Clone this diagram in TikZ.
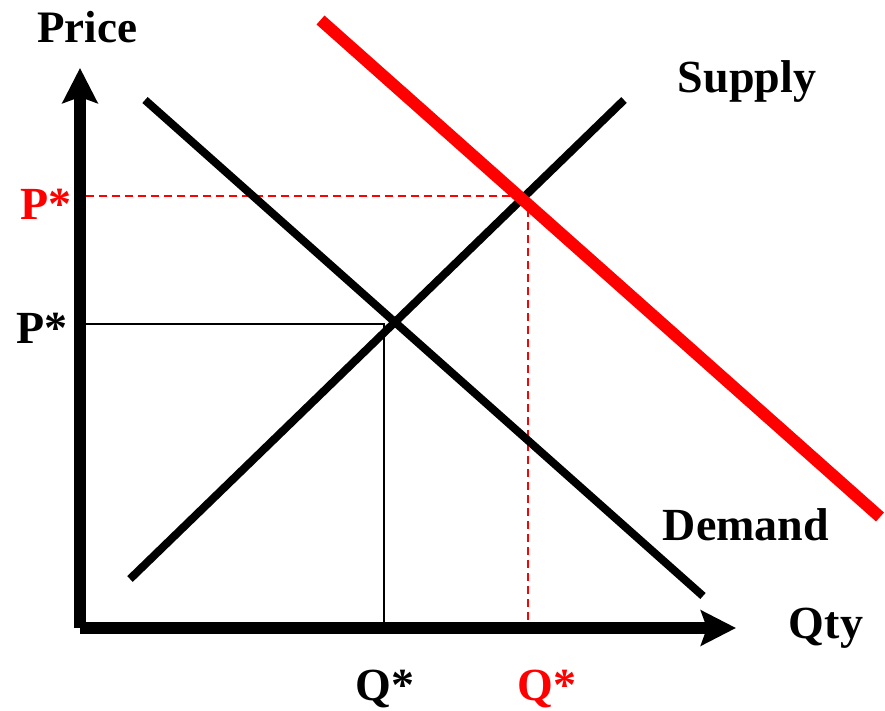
\documentclass[tikz,border=0pt]{standalone}
\usepackage{fontspec}
\setmainfont{Liberation Serif}
\usetikzlibrary{arrows.meta}
\definecolor{pred}{RGB}{255,0,0}
\tikzset{
  axisline/.style={line width=12pt,-{Stealth[length=35pt,width=35pt,inset=6pt]}},
  curveline/.style={line width=8pt,line cap=butt},
  shiftline/.style={line width=12pt,color=pred,line cap=butt},
  guideline/.style={line width=2pt},
  redguide/.style={line width=1.5pt,color=pred,dash pattern=on 8pt off 5pt},
  lbl/.style={font=\fontsize{46}{50}\selectfont\bfseries,anchor=base,inner sep=0pt},
}
\begin{document}
\begin{tikzpicture}[x=1pt,y=-1pt]
\useasboundingbox (0,0) rectangle (885,711);
% coordinates
\coordinate (O) at (80,628);
\coordinate (Ytop) at (80,68);
\coordinate (Xend) at (736,628);
\coordinate (S1) at (130,579);
\coordinate (S2) at (624,100);
\coordinate (D1) at (145,100);
\coordinate (D2) at (703,596);
\coordinate (R1) at (320.5,20);
\coordinate (R2) at (880,517);
\coordinate (Eq) at (384,324);
\coordinate (EqY) at (86,324);
\coordinate (EqX) at (384,628);
\coordinate (Er) at (528,196);
\coordinate (ErY) at (86,196);
\coordinate (ErX) at (528,628);
% guides
\draw[redguide] (ErY) -- (Er);
\draw[redguide] (Er) -- (ErX);
\draw[guideline] (EqY) -- (Eq) -- (EqX);
% curves
\draw[curveline] (S1) -- (S2);
\draw[curveline] (D1) -- (D2);
\draw[shiftline] (R1) -- (R2);
% axes
\draw[axisline,line cap=butt] (O) -- (Ytop);
\draw[axisline,line cap=butt] (O) -- (Xend);
% labels
\node[lbl,font=\fontsize{45}{50}\selectfont\bfseries] (price) at (87,43) {Price};
\node[lbl] (supply) at (747,93) {Supply};
\node[lbl] (demand) at (746,540) {Demand};
\node[lbl] (qty) at (826,638) {Qty};
\node[lbl] (qstar) at (385,700) {Q*};
\node[lbl,text=pred] (qstarr) at (547,700) {Q*};
\node[lbl,text=pred] (pstarr) at (46,220) {P*};
\node[lbl] (pstar) at (42,343) {P*};
\end{tikzpicture}
\end{document}
